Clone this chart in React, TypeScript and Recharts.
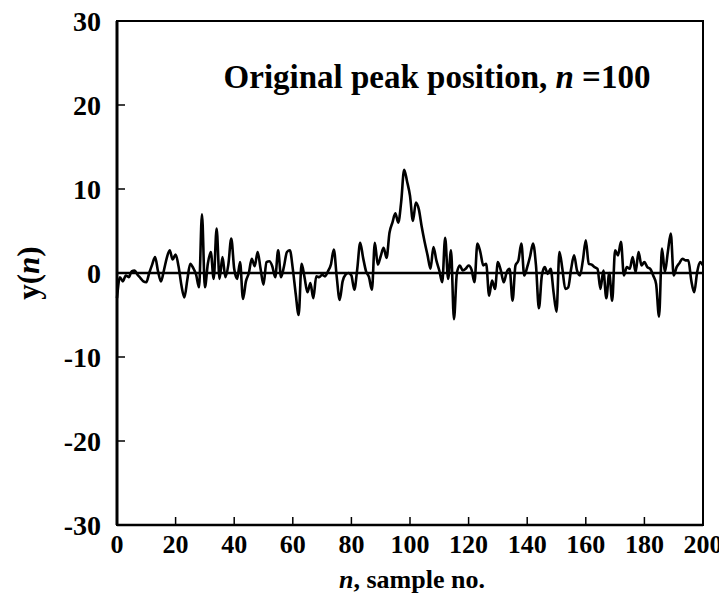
import { LineChart, Line, XAxis, YAxis, ReferenceLine, ReferenceArea } from "recharts";

// y(n), n = 0..200
const samples = [
  -3.0, -0.5, -1.0, -0.3, -0.5, 0.2, 0.3, -0.2, -0.6, -1.0,
  -1.1, 0.0, 1.0, 1.9, 0.2, -1.0, 0.3, 1.8, 2.7, 1.6,
  2.2, 0.8, -1.5, -2.9, -0.8, 1.1, 0.6, -0.2, -1.7, 7.0,
  -1.7, 1.1, 2.5, -0.7, 5.3, -0.7, 1.9, -0.5, 1.0, 4.1,
  0.5, -0.7, 1.3, -3.1, -1.0, 0.0, 1.7, 0.8, 2.5, 0.5,
  -1.4, 1.3, 1.4, 0.8, -0.5, 2.7, -0.5, 0.8, 2.5, 2.7,
  0.5, -2.5, -5.0, 1.1, -0.5, -2.3, -1.2, -3.0, -0.4, -0.5,
  -0.2, -0.4, 0.2, 1.0, 2.8, -0.5, -3.2, -1.0, -0.2, 0.0,
  -0.3, -2.0, 0.5, 3.6, 1.8, 0.2, -0.5, -2.0, 3.6, 1.0,
  2.0, 3.0, 1.8, 4.8, 6.0, 7.1, 6.0, 8.5, 12.3, 10.9,
  9.2, 6.2, 8.4, 7.6, 5.5, 3.7, 2.1, 0.5, 3.1, 1.5,
  0.3, -1.1, 4.2, -0.7, 2.7, -5.5, 0.0, 0.9, 0.3, 0.5,
  0.9, 0.4, -1.1, 3.5, 2.5, 0.9, 1.1, -2.7, -0.9, -1.9,
  1.3, 0.3, -1.1, 0.1, 0.5, -3.3, 0.9, 1.5, 3.5, -0.3,
  0.7, 2.0, 3.5, 0.9, -4.2, -0.3, 0.7, -0.1, 0.5, -2.3,
  -4.6, 2.5, 0.5, -1.9, -1.7, 0.5, 2.1, 0.3, -0.3, 1.5,
  3.9, 1.1, 1.0, 0.7, 0.5, -1.9, 0.3, -3.0, 0.0, -3.3,
  2.7, 2.1, 3.7, -0.3, 0.7, 0.5, 1.9, 0.1, 2.5, 0.9,
  1.3, 0.7, 0.5, -0.3, -1.3, -5.2, 2.9, 0.1, 2.5, 4.7,
  -0.3, 0.7, 1.2, 1.7, 1.5, 1.5, -0.9, -2.3, 0.1, 1.3,
  0.9,
];
const xTicks = [0, 20, 40, 60, 80, 100, 120, 140, 160, 180, 200];
const yTicks = [-30, -20, -10, 0, 10, 20, 30];

const data = samples.map((y, n) => ({ n, y }));

const FONT = '"Liberation Serif", "Times New Roman", serif';

function XTick({ x, y, payload }: any) {
  const v = payload.value;
  const inner = v !== 0 && v !== 200;
  return (
    <g>
      {inner && <line x1={x} x2={x} y1={y} y2={y - 8} stroke="#000" strokeWidth={1.5} />}
      <text x={x} y={y + 28} textAnchor="middle" fontFamily={FONT} fontWeight="bold" fontSize={26} fill="#000">
        {v}
      </text>
    </g>
  );
}

function YTick({ x, y, payload }: any) {
  const v = payload.value;
  const inner = v !== 30 && v !== -30 && v !== 0;
  return (
    <g>
      {inner && <line x1={x} x2={x + 8} y1={y} y2={y} stroke="#000" strokeWidth={1.5} />}
      <text x={x - 16} y={y + 10} textAnchor="end" fontFamily={FONT} fontWeight="bold" fontSize={28} fill="#000">
        {v}
      </text>
    </g>
  );
}

export default function App() {
  return (
    <div style={{ position: "relative", width: 719, height: 593, fontFamily: FONT, background: "#fff" }}>
      <style>{"svg { overflow: visible; }"}</style>
      <LineChart width={719} height={593} data={data} margin={{ top: 13, right: 24, left: 9, bottom: 36 }}>
        <XAxis
          dataKey="n"
          type="number"
          domain={[0, 200]}
          ticks={xTicks}
          interval={0}
          tickSize={0}
          tickMargin={0}
          height={40}
          axisLine={{ stroke: "#000", strokeWidth: 2.5 }}
          tick={<XTick />}
        />
        <YAxis
          type="number"
          domain={[-30, 30]}
          ticks={yTicks}
          interval={0}
          tickSize={0}
          tickMargin={0}
          width={100}
          axisLine={{ stroke: "#000", strokeWidth: 3 }}
          tick={<YTick />}
        />
        <ReferenceArea x1={0} x2={200} y1={-30} y2={30} fill="none" stroke="#000" strokeWidth={2} ifOverflow="visible" />
        <ReferenceLine y={0} stroke="#000" strokeWidth={2.5} />
        <Line type="monotone" dataKey="y" stroke="#000" strokeWidth={2.6} dot={false} isAnimationActive={false} />
      </LineChart>
      <div style={{ position: "absolute", left: 161, top: 50, width: 536, textAlign: "center", fontWeight: "bold", fontSize: 33, lineHeight: "38px", whiteSpace: "nowrap" }}>
        Original peak position, <i>n</i> =100
      </div>
      <div style={{ position: "absolute", left: 21, top: 265, width: 0, height: 0 }}>
        <div style={{ position: "absolute", transform: "translate(-50%, -50%) rotate(-90deg)", fontWeight: "bold", fontSize: 31, whiteSpace: "nowrap", lineHeight: "34px" }}>
          y(<i>n</i>)
        </div>
      </div>
      <div style={{ position: "absolute", left: 109, top: 556, width: 590, textAlign: "center", fontWeight: "bold", fontSize: 26, lineHeight: "32px", whiteSpace: "nowrap" }}>
        <i>n</i>, sample no.
      </div>
    </div>
  );
}
